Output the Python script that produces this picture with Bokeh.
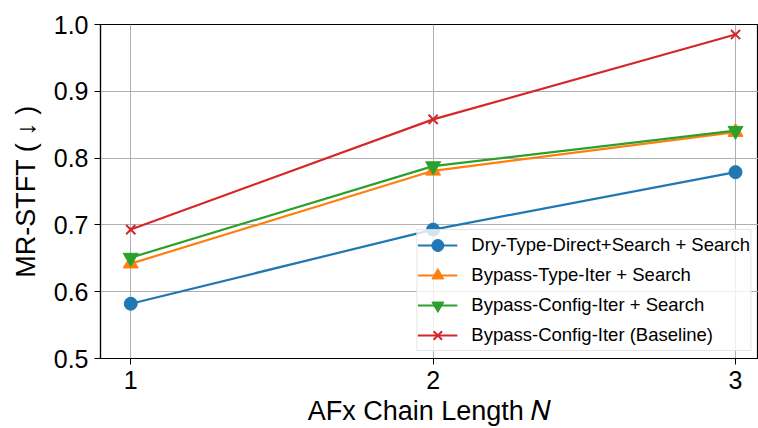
from bokeh.plotting import figure
from bokeh.models import Legend, LegendItem, FixedTicker, Range1d, CustomJSTickFormatter
from bokeh.embed import file_html
from bokeh.resources import INLINE

chain_length = [1, 2, 3]
dry_type_direct = [0.582, 0.693, 0.779]
bypass_type_iter = [0.642, 0.781, 0.839]
bypass_config_iter = [0.651, 0.788, 0.841]
baseline = [0.693, 0.858, 0.985]
y_ticks = [0.5, 0.6, 0.7, 0.8, 0.9, 1.0]
x_ticks = [1, 2, 3]

FONT = "Liberation Sans"

p = figure(width=758, height=428, output_backend="svg", toolbar_location=None,
           x_range=Range1d(0.9, 3.076), y_range=Range1d(0.5, 1.0),
           min_border_top=24, min_border_right=0, min_border_bottom=70, min_border_left=100)

p.outline_line_color = "black"
p.outline_line_width = 1.2

for ax in (p.xaxis[0], p.yaxis[0]):
    ax.axis_line_color = "black"
    ax.axis_line_width = 1.2
    ax.major_tick_line_color = "black"
    ax.major_tick_out = 6
    ax.major_tick_in = 0
    ax.minor_tick_line_color = None
    ax.major_label_text_font = FONT
    ax.major_label_text_font_size = "25px"
    ax.major_label_text_color = "black"
    ax.axis_label_text_font = FONT
    ax.axis_label_text_font_size = "27px"
    ax.axis_label_text_font_style = "normal"
    ax.axis_label_text_color = "black"

p.xaxis.ticker = FixedTicker(ticks=x_ticks)
p.yaxis.ticker = FixedTicker(ticks=y_ticks)
p.yaxis.formatter = CustomJSTickFormatter(code="return tick.toFixed(1);")
p.xaxis.axis_label = "AFx Chain Length 𝑁"
p.yaxis.axis_label = "MR-STFT ( ↓ )"
p.xaxis.axis_label_standoff = 4
p.yaxis.axis_label_standoff = 10
p.xaxis.major_label_standoff = 6
p.yaxis.major_label_standoff = 6

p.xgrid.grid_line_color = "#b0b0b0"
p.ygrid.grid_line_color = "#b0b0b0"
p.xgrid.grid_line_width = 1
p.ygrid.grid_line_width = 1

blue, orange, green, red = "#1f77b4", "#ff7f0e", "#2ca02c", "#d62728"

l1 = p.line(chain_length, dry_type_direct, color=blue, line_width=2.2)
m1 = p.scatter(chain_length, dry_type_direct, marker="circle", size=13, color=blue)
l2 = p.line(chain_length, bypass_type_iter, color=orange, line_width=2.2)
m2 = p.scatter(chain_length, bypass_type_iter, marker="triangle", size=15, color=orange)
l3 = p.line(chain_length, bypass_config_iter, color=green, line_width=2.2)
m3 = p.scatter(chain_length, bypass_config_iter, marker="inverted_triangle", size=15, color=green)
l4 = p.line(chain_length, baseline, color=red, line_width=2.2)
m4 = p.scatter(chain_length, baseline, marker="x", size=13, line_color=red, line_width=2)

legend = Legend(items=[
    LegendItem(label="Dry-Type-Direct+Search + Search", renderers=[l1, m1]),
    LegendItem(label="Bypass-Type-Iter + Search", renderers=[l2, m2]),
    LegendItem(label="Bypass-Config-Iter + Search", renderers=[l3, m3]),
    LegendItem(label="Bypass-Config-Iter (Baseline)", renderers=[l4, m4]),
], location="bottom_right")
legend.label_text_font = FONT
legend.label_text_font_size = "18.5px"
legend.label_text_color = "black"
legend.border_line_color = "#cccccc"
legend.border_line_width = 1
legend.background_fill_alpha = 0.8
legend.glyph_width = 40
legend.glyph_height = 30
legend.spacing = -3
legend.padding = 0
legend.margin = 7
legend.label_standoff = 14
p.add_layout(legend)

open("out.html", "w").write(file_html(p, INLINE))
